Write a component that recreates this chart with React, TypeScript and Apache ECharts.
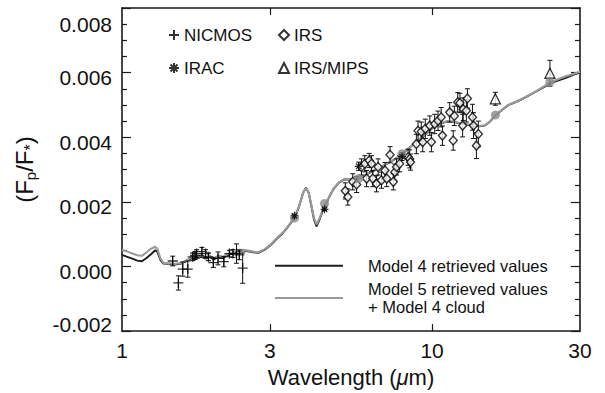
import React, { useEffect, useRef } from "react";
import * as echarts from "echarts";

const FONT = "'Liberation Sans', Arial, Helvetica, sans-serif";

const xTickLabels = [1, 3, 10, 30];
const xInnerTicks = [3, 10];
const yMin = -0.002;
const yMax = 0.008;
const yStep = 0.002;

const modelWave = [1.0, 1.04, 1.08, 1.12, 1.16, 1.2, 1.24, 1.28, 1.3, 1.33, 1.36, 1.42, 1.48, 1.55, 1.62, 1.68, 1.74, 1.8, 1.86, 1.92, 1.98, 2.05, 2.12, 2.2, 2.28, 2.36, 2.45, 2.55, 2.65, 2.75, 2.88, 3.0, 3.15, 3.3, 3.45, 3.6, 3.72, 3.84, 3.92, 4.0, 4.08, 4.16, 4.24, 4.34, 4.45, 4.55, 4.68, 4.82, 5.0, 5.2, 5.45, 5.75, 6.05, 6.4, 6.8, 7.25, 7.75, 8.25, 8.8, 9.4, 10.0, 10.6, 11.2, 11.8, 12.4, 13.0, 13.6, 14.2, 14.8, 15.4, 16.0, 16.8, 17.6, 18.6, 19.6, 20.6, 21.8, 23.0, 24.2, 25.6, 27.0, 28.5, 30.0];

const model5Flux = [0.00052, 0.00046, 0.0004, 0.00035, 0.00033, 0.00044, 0.00055, 0.00061, 0.00055, 0.00025, 0.00011, 0.0001, 0.00008, 0.00011, 0.0002, 0.0003, 0.00028, 0.00034, 0.00028, 0.00033, 0.00026, 0.00034, 0.0003, 0.0004, 0.00043, 0.0005, 0.00052, 0.00049, 0.00046, 0.00044, 0.00053, 0.00066, 0.00087, 0.00105, 0.00128, 0.00152, 0.00185, 0.00228, 0.00243, 0.00228, 0.0019, 0.0015, 0.0013, 0.0015, 0.00178, 0.00196, 0.0022, 0.00242, 0.0026, 0.0027, 0.0027, 0.00272, 0.00282, 0.00295, 0.00306, 0.00322, 0.00338, 0.0036, 0.00382, 0.00405, 0.00428, 0.00442, 0.0045, 0.00448, 0.00443, 0.0044, 0.00437, 0.00435, 0.00437, 0.0045, 0.00468, 0.00485, 0.005, 0.0051, 0.0052, 0.00531, 0.00544, 0.00558, 0.0057, 0.0058, 0.00589, 0.00596, 0.00603];

const model4Flux = [0.00036, 0.0003, 0.00024, 0.00018, 0.00016, 0.00026, 0.00038, 0.0005, 0.00046, 0.0002, 0.00009, 0.00008, 0.00006, 0.00009, 0.00017, 0.00026, 0.00024, 0.0003, 0.00024, 0.00029, 0.00022, 0.0003, 0.00026, 0.00036, 0.0004, 0.00047, 0.0005, 0.00047, 0.00044, 0.00042, 0.00051, 0.00064, 0.00085, 0.00103, 0.00126, 0.0015, 0.00184, 0.00228, 0.00244, 0.00228, 0.00188, 0.00146, 0.00124, 0.00146, 0.00175, 0.00194, 0.00219, 0.00241, 0.00259, 0.00269, 0.00269, 0.00271, 0.00281, 0.00294, 0.00305, 0.00321, 0.00337, 0.00359, 0.00381, 0.00404, 0.00427, 0.00441, 0.00449, 0.00447, 0.00442, 0.00439, 0.00436, 0.00434, 0.00436, 0.00449, 0.00467, 0.00484, 0.00499, 0.00509, 0.00519, 0.0053, 0.00543, 0.00556, 0.00568, 0.00576, 0.00584, 0.00593, 0.006];

const nicmosWave = [1.457, 1.52, 1.57, 1.63, 1.69, 1.72, 1.74, 1.81, 1.86, 1.9, 1.97, 2.04, 2.13, 2.22, 2.28, 2.34, 2.39, 2.45];
const nicmosFlux = [0.00017, -0.00051, -0.00008, -0.00008, 0.0003, 0.00034, 0.0004, 0.00046, 0.0004, 0.0003, 0.00012, 0.00025, 0.00015, 0.0004, 0.0004, 0.0004, 0.00036, -0.00005];
const nicmosErr = [0.00015, 0.00022, 0.00022, 0.00025, 0.00012, 0.00012, 0.00012, 0.00013, 0.00012, 0.00012, 0.00015, 0.0002, 0.00016, 0.0001, 0.00012, 0.0003, 0.00015, 0.00047];

const iracWave = [3.6, 4.5, 5.8, 8.0];
const iracFlux = [0.00157, 0.00177, 0.0031, 0.0034];
const iracErr = [0.00004, 0.00004, 0.00013, 0.00012];

const irsWave = [5.25, 5.35, 5.55, 5.71, 5.92, 6.07, 6.15, 6.27, 6.38, 6.44, 6.62, 6.7, 6.87, 7.05, 7.14, 7.32, 7.5, 7.58, 7.68, 7.86, 8.37, 8.47, 8.52, 8.9, 9.01, 9.23, 9.33, 9.51, 9.83, 9.95, 10.2, 10.45, 10.7, 10.8, 11.4, 11.7, 11.8, 12.1, 12.3, 12.55, 12.6, 12.9, 13.0, 13.5, 13.6, 13.9, 14.1];
const irsFlux = [0.00234, 0.00215, 0.00262, 0.00254, 0.00308, 0.00318, 0.00272, 0.00328, 0.00318, 0.00272, 0.00256, 0.00308, 0.00267, 0.00297, 0.00272, 0.00346, 0.00262, 0.00292, 0.00308, 0.00318, 0.00338, 0.00333, 0.00323, 0.00379, 0.0042, 0.00417, 0.00385, 0.00426, 0.00436, 0.00385, 0.00441, 0.00451, 0.00462, 0.00405, 0.00477, 0.0039, 0.00466, 0.00508, 0.00506, 0.00436, 0.00487, 0.00482, 0.0052, 0.00462, 0.00436, 0.00374, 0.0041];
const irsErr = [0.00025, 0.00025, 0.00025, 0.00025, 0.00025, 0.00025, 0.00025, 0.00022, 0.00025, 0.00025, 0.00025, 0.00025, 0.00025, 0.00025, 0.00025, 0.00025, 0.00025, 0.00025, 0.00025, 0.00025, 0.00025, 0.00028, 0.00025, 0.0003, 0.0003, 0.0003, 0.0003, 0.0003, 0.0003, 0.0003, 0.0003, 0.0003, 0.0003, 0.0003, 0.0003, 0.0003, 0.0003, 0.0003, 0.0003, 0.00035, 0.00035, 0.00035, 0.0003, 0.0004, 0.0004, 0.0004, 0.0004];

const mipsWave = [16.0, 24.0];
const mipsFlux = [0.00519, 0.00598];
const mipsErr = [0.0002, 0.0004];

const binWave = [3.6, 4.5, 5.8, 8.0, 16.0, 24.0];
const binFlux = [0.0015, 0.00195, 0.00272, 0.00349, 0.00469, 0.00571];

const lg = (v: number) => Math.log10(v);

const PLUS = "path://M5,0L5,10M0,5L10,5";
const STAR = "path://M5,0L5,10M0,5L10,5M1.5,1.5L8.5,8.5M1.5,8.5L8.5,1.5";

function errSeries(name: string, wave: number[], flux: number[], err: number[], z: number) {
  return {
    type: "custom",
    name,
    z,
    silent: true,
    xAxisIndex: 0,
    yAxisIndex: 0,
    data: wave.map((w, i) => [lg(w), flux[i] - err[i], flux[i] + err[i]]),
    encode: { x: 0, y: [1, 2] },
    renderItem: (params: any, api: any) => {
      const x = api.value(0);
      const p1 = api.coord([x, api.value(1)]);
      const p2 = api.coord([x, api.value(2)]);
      const c = 2.5;
      const st = { stroke: "#111", lineWidth: 1 };
      return {
        type: "group",
        children: [
          { type: "line", shape: { x1: p1[0], y1: p1[1], x2: p2[0], y2: p2[1] }, style: st },
          { type: "line", shape: { x1: p1[0] - c, y1: p1[1], x2: p1[0] + c, y2: p1[1] }, style: st },
          { type: "line", shape: { x1: p2[0] - c, y1: p2[1], x2: p2[0] + c, y2: p2[1] }, style: st },
        ],
      };
    },
  };
}

const pts = (wave: number[], flux: number[]) => wave.map((w, i) => [lg(w), flux[i]]);

export default function App() {
  const ref = useRef<HTMLDivElement>(null);
  useEffect(() => {
    if (!ref.current) return;
    const chart = echarts.init(ref.current, null, { renderer: "svg" });
    const axisLineStyle = { color: "#1a1a1a", width: 1.6 };
    const tickStyle = { color: "#1a1a1a", width: 1.2 };
    const xBase = {
      type: "value",
      min: 0,
      max: lg(30),
      splitLine: { show: false },
      axisLine: { show: true, onZero: false, lineStyle: axisLineStyle },
      axisTick: { show: true, inside: true, length: 7, customValues: xInnerTicks.map(lg), lineStyle: tickStyle },
    };
    const yBase = {
      type: "value",
      min: yMin,
      max: yMax,
      interval: yStep,
      splitLine: { show: false },
      axisLine: { show: true, onZero: false, lineStyle: axisLineStyle },
      axisTick: { show: true, inside: true, length: 9, lineStyle: tickStyle },
      minorTick: { show: true, splitNumber: 4, length: 5, lineStyle: tickStyle },
    };
    const legendText = { fontFamily: FONT, fontSize: 17, color: "#111", lineHeight: 20 };
    const option: any = {
      animation: false,
      backgroundColor: "#fff",
      grid: { left: 122, top: 8, width: 458, height: 325, containLabel: false },
      xAxis: [
        {
          ...xBase,
          position: "bottom",
          axisLabel: {
            customValues: xTickLabels.map(lg),
            formatter: (v: number) => String(Math.round(Math.pow(10, v))),
            fontFamily: FONT,
            fontSize: 21,
            color: "#111",
            margin: 9,
          },
          name: "Wavelength ({mu|μ}m)",
          nameLocation: "middle",
          nameGap: 33,
          nameTextStyle: {
            fontFamily: FONT,
            fontSize: 22,
            color: "#111",
            rich: { mu: { fontFamily: FONT, fontSize: 22, fontStyle: "italic", color: "#111" } },
          },
        },
        { ...xBase, position: "top", axisLabel: { show: false } },
      ],
      yAxis: [
        {
          ...yBase,
          position: "left",
          axisLabel: {
            fontFamily: FONT,
            fontSize: 21,
            color: "#111",
            margin: 10,
            formatter: (v: number) => {
              const s = (Math.abs(v) < 1e-9 ? 0 : v).toFixed(3);
              if (v > yMax - 1e-6) return "{t|" + s + "}";
              if (v < yMin + 1e-6) return "{b|" + s + "}";
              return "{m|" + s + "}";
            },
            rich: {
              t: { fontFamily: FONT, fontSize: 21, color: "#111", padding: [32, 0, 0, 0] },
              m: { fontFamily: FONT, fontSize: 21, color: "#111", padding: [10, 0, 0, 0] },
              b: { fontFamily: FONT, fontSize: 21, color: "#111", padding: [0, 0, 14, 0] },
            },
          },
          name: "(F{s|p}/F{s2|*})",
          nameLocation: "middle",
          nameRotate: 90,
          nameGap: 84,
          nameTextStyle: {
            fontFamily: FONT,
            fontSize: 24,
            color: "#111",
            lineHeight: 27,
            rich: {
              s: { fontFamily: FONT, fontSize: 15, color: "#111", verticalAlign: "bottom", lineHeight: 15, padding: [14, 0, 0, 0] },
              s2: { fontFamily: FONT, fontSize: 16, color: "#111", verticalAlign: "bottom", lineHeight: 16, padding: [9, 0, 0, 0] },
            },
          },
        },
        { ...yBase, position: "right", axisLabel: { show: false } },
      ],
      legend: [
        {
          data: ["NICMOS", "IRAC"],
          orient: "vertical",
          left: 168,
          top: 25,
          padding: 0,
          itemWidth: 10,
          itemHeight: 10,
          itemGap: 13,
          selectedMode: false,
          textStyle: legendText,
        },
        {
          data: ["IRS", "IRS/MIPS"],
          orient: "vertical",
          left: 278,
          top: 25,
          padding: 0,
          itemWidth: 10,
          itemHeight: 10,
          itemGap: 13,
          selectedMode: false,
          textStyle: legendText,
        },
        {
          data: ["Model 4", "Model 5"],
          orient: "vertical",
          left: 275,
          top: 257,
          padding: 0,
          icon: "rect",
          itemWidth: 68,
          itemHeight: 2,
          itemGap: 6,
          selectedMode: false,
          formatter: (n: string) =>
            n === "Model 4" ? "Model 4 retrieved values" : "Model 5 retrieved values\n+ Model 4 cloud",
          textStyle: { fontFamily: FONT, fontSize: 16.5, color: "#111", lineHeight: 17.5, padding: [0, 0, 0, 20] },
        },
      ],
      series: [
        {
          name: "Model 4",
          type: "line",
          data: pts(modelWave, model4Flux),
          showSymbol: false,
          symbol: "none",
          lineStyle: { color: "#1c1c1c", width: 1.9 },
          itemStyle: { color: "#1c1c1c" },
          z: 2,
        },
        {
          name: "Model 5",
          type: "line",
          data: pts(modelWave, model5Flux),
          showSymbol: false,
          symbol: "none",
          lineStyle: { color: "#9a9a9a", width: 2.1 },
          itemStyle: { color: "#9a9a9a" },
          z: 3,
        },
        errSeries("nicmosErr", nicmosWave, nicmosFlux, nicmosErr, 4),
        errSeries("iracErr", iracWave, iracFlux, iracErr, 4),
        errSeries("irsErr", irsWave, irsFlux, irsErr, 4),
        errSeries("mipsErr", mipsWave, mipsFlux, mipsErr, 4),
        {
          name: "NICMOS",
          type: "scatter",
          data: pts(nicmosWave, nicmosFlux),
          symbol: PLUS,
          symbolSize: 10,
          itemStyle: { color: "#000", borderColor: "#000", borderWidth: 1.3 },
          z: 5,
        },
        {
          name: "IRS",
          type: "scatter",
          data: pts(irsWave, irsFlux),
          symbol: "diamond",
          symbolSize: [8, 9],
          itemStyle: { color: "#fff", borderColor: "#000", borderWidth: 1.4 },
          z: 5,
        },
        {
          name: "IRS/MIPS",
          type: "scatter",
          data: pts(mipsWave, mipsFlux),
          symbol: "triangle",
          symbolSize: [10, 10],
          itemStyle: { color: "#fff", borderColor: "#000", borderWidth: 1.3 },
          z: 5,
        },
        {
          name: "binned",
          type: "scatter",
          data: pts(binWave, binFlux),
          symbol: "circle",
          symbolSize: 9,
          itemStyle: { color: "#8a8a8a" },
          z: 6,
        },
        {
          name: "IRAC",
          type: "scatter",
          data: pts(iracWave, iracFlux),
          symbol: STAR,
          symbolSize: 8,
          itemStyle: { color: "#000", borderColor: "#000", borderWidth: 1.2 },
          z: 7,
        },
      ],
    };
    chart.setOption(option);
    return () => chart.dispose();
  }, []);
  return <div ref={ref} style={{ width: 605, height: 393, position: "absolute", left: 0, top: 0 }} />;
}
